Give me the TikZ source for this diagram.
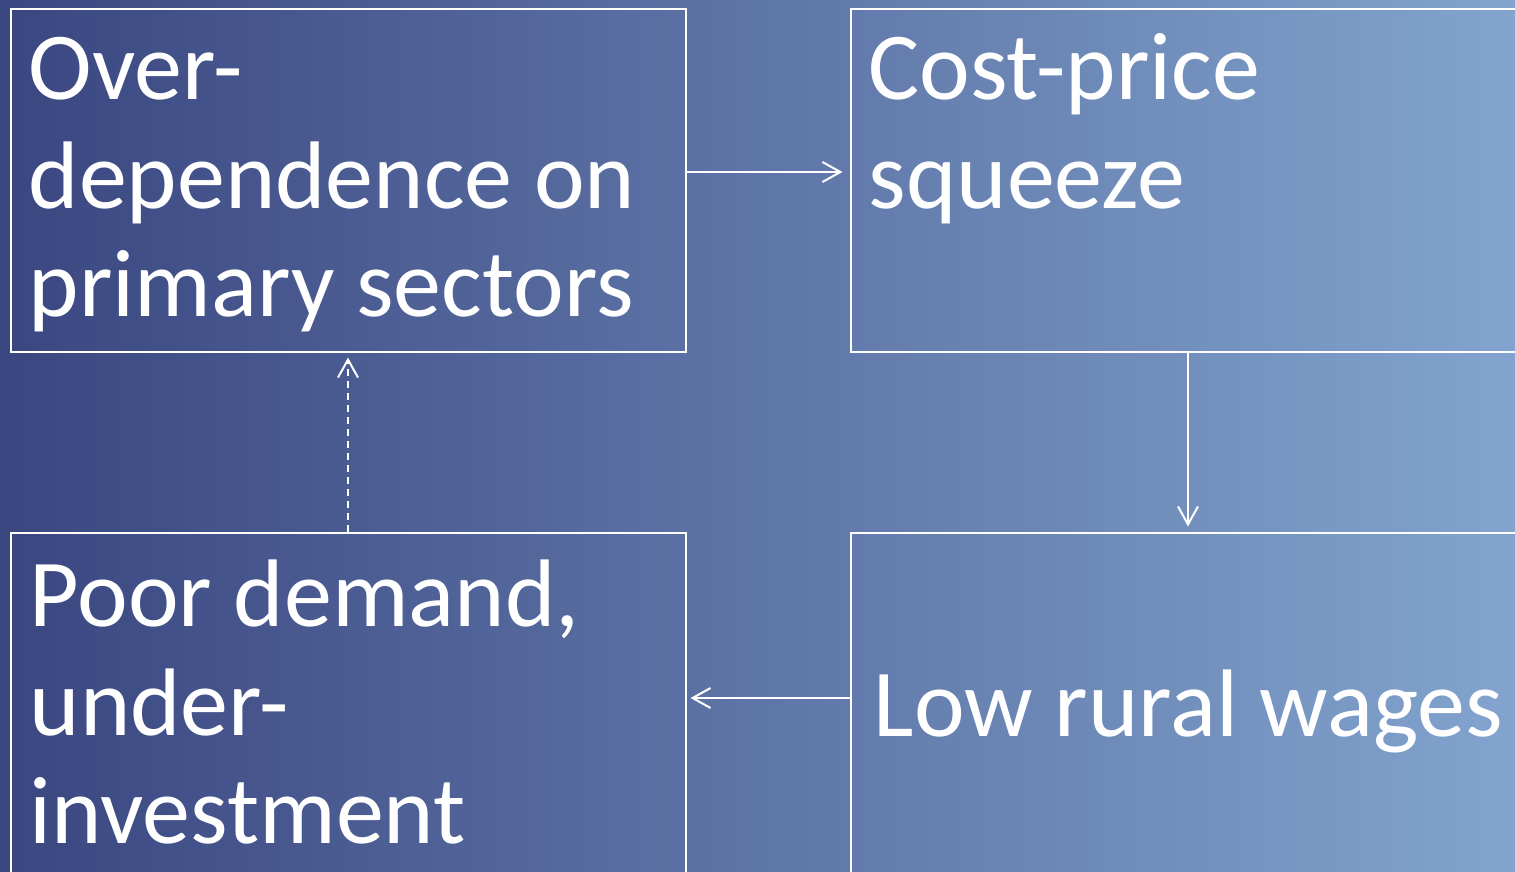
\documentclass[tikz,border=0pt]{standalone}
\usepackage{fontspec}
\setmainfont{Carlito}
\usetikzlibrary{arrows.meta}
\definecolor{bgleft}{RGB}{58,70,128}
\definecolor{bgright}{RGB}{130,164,206}

\begin{document}
\begin{tikzpicture}[x=1pt, y=-1pt,
        box/.style={draw=white, line width=2pt, minimum width=675pt, minimum height=343pt, inner sep=0pt},
        boxtext/.style={text=white, font=\fontsize{96}{108.5}\selectfont, align=left, inner sep=0pt, anchor=base west},
        link/.style={draw=white, line width=2pt, -{Straight Barb[length=18pt, width=20pt]}}]
            \useasboundingbox (0,0) rectangle (1515,871);
            \clip (0,0) rectangle (1515,871);
            \shade[left color=bgleft, right color=bgright] (0,0) rectangle (1515,871);

            \node[box] (over) at (348,180) {};
            \node[box] (cost) at (1188,180) {};
            \node[box] (demand) at (348,704) {};
            \node[box] (wages) at (1188,704) {};

            \node[boxtext] (overtext) at ([xshift=19pt, yshift=-309pt]over.north west) {Over-\\dependence on\\primary sectors};
            \node[boxtext] (costtext) at ([xshift=19pt, yshift=-200.5pt]cost.north west) {Cost-price\\squeeze};
            \node[boxtext] (demandtext) at ([xshift=20pt, yshift=-312pt]demand.north west) {Poor demand,\\under-\\investment};
            \node[boxtext] (wagestext) at ([xshift=24pt, yshift=-32pt]wages.west) {Low rural wages};

            \draw[link, shorten >=7pt] ([yshift=8pt]over.east) -- ([yshift=8pt]cost.west);
            \draw[link, shorten >=5pt] (cost.south) -- (wages.north);
            \draw[link, shorten >=4pt] ([yshift=6pt]wages.west) -- ([yshift=6pt]demand.east);
            \draw[link, dash pattern=on 7pt off 5pt, shorten >=5pt] (demand.north) -- (over.south);
        \end{tikzpicture}
\end{document}
